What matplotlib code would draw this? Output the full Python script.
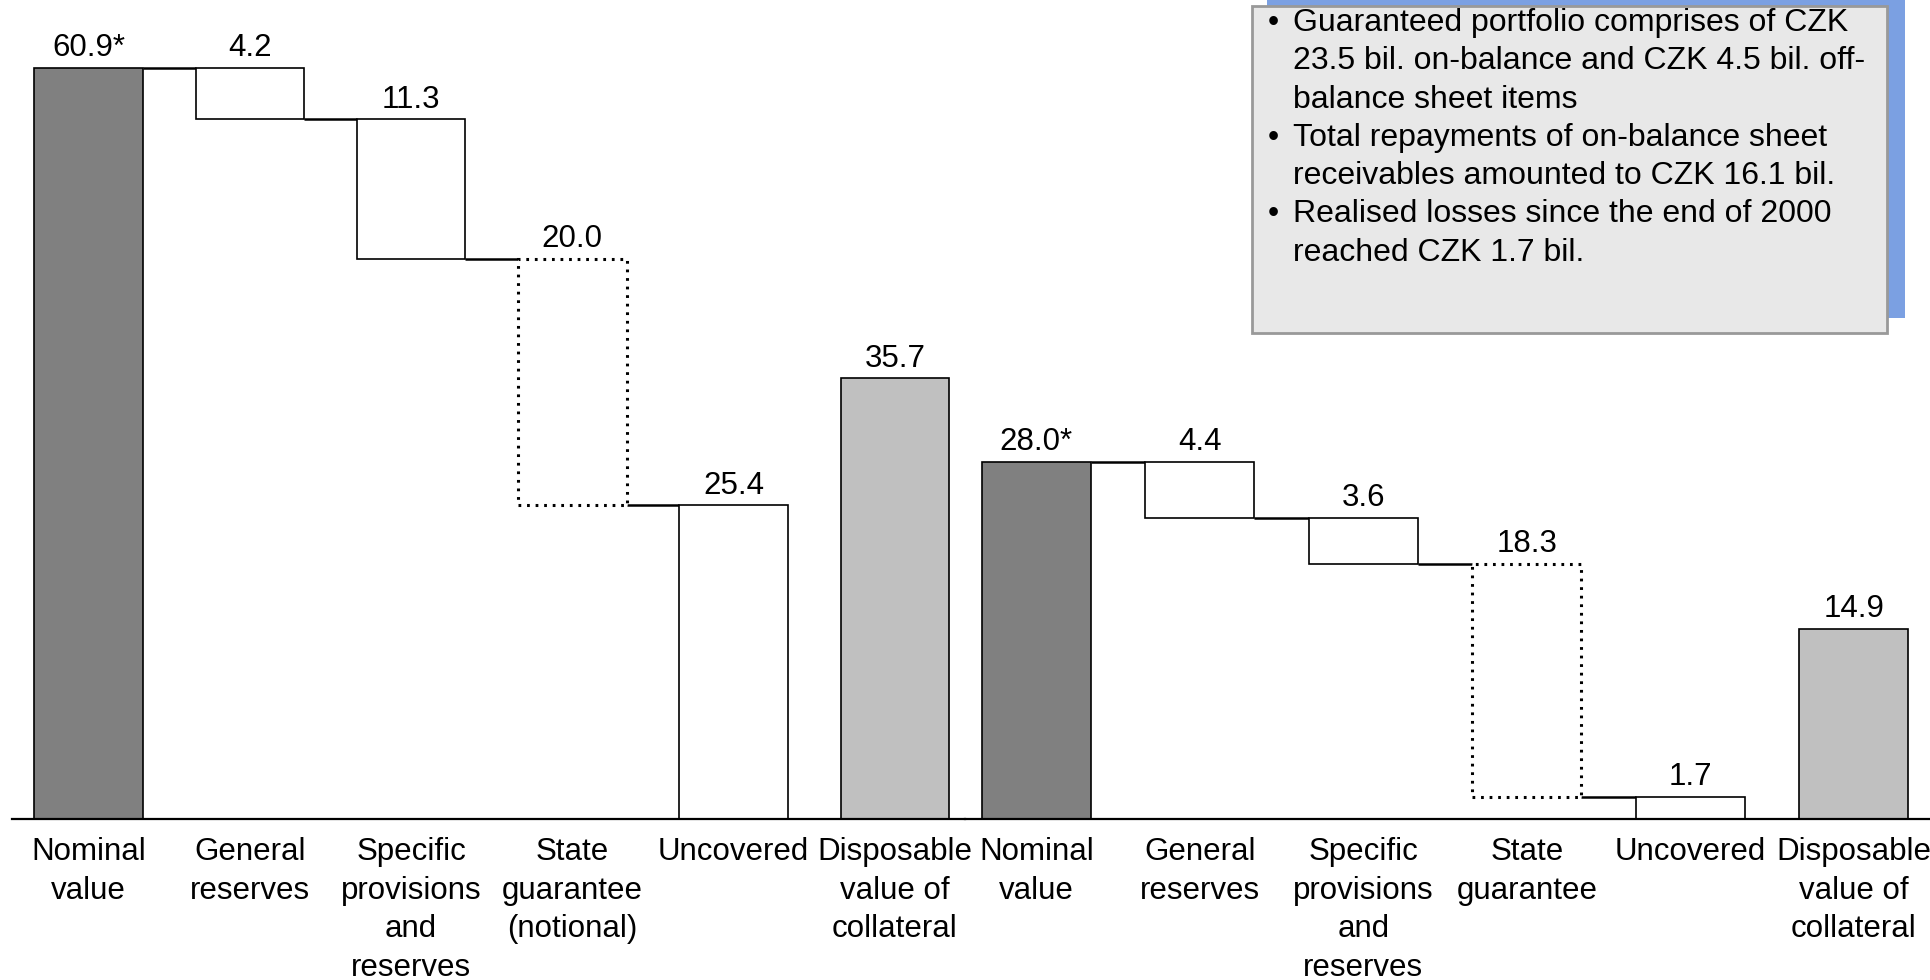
import matplotlib
matplotlib.use("Agg")
import matplotlib.pyplot as plt
from matplotlib.patches import Rectangle
import numpy as np

plt.rcParams['font.family'] = ['Liberation Sans', 'DejaVu Sans']

# ---------------- data ----------------
categories1 = ["Nominal\nvalue", "General\nreserves", "Specific\nprovisions\nand\nreserves",
               "State\nguarantee\n(notional)", "Uncovered", "Disposable\nvalue of\ncollateral"]
values1 = [60.9, 4.2, 11.3, 20.0, 25.4, 35.7]
labels1 = ["60.9*", "4.2", "11.3", "20.0", "25.4", "35.7"]

categories2 = ["Nominal\nvalue", "General\nreserves", "Specific\nprovisions\nand\nreserves",
               "State\nguarantee", "Uncovered", "Disposable\nvalue of\ncollateral"]
values2 = [28.0, 4.4, 3.6, 18.3, 1.7, 14.9]
labels2 = ["28.0*", "4.4", "3.6", "18.3", "1.7", "14.9"]

# bar kinds: total, step, step, step(dotted), remaining, collateral
kinds = ["total", "step", "step", "dotted", "total_white", "collateral"]

note_lines = ["Guaranteed portfolio comprises of CZK",
              "23.5 bil. on-balance and CZK 4.5 bil. off-",
              "balance sheet items",
              "Total repayments of on-balance sheet",
              "receivables amounted to CZK 16.1 bil.",
              "Realised losses since the end of 2000",
              "reached CZK 1.7 bil."]
note_bullets = [True, False, False, True, False, True, False]

FS = 22.5
FS_NOTE = 23.0
W, H = 1930, 980
fig = plt.figure(figsize=(W / 100, H / 100), dpi=100)

base_px = 818.6
bottom = (H - base_px) / H
height = base_px / H

def draw_group(ax, values, labels, cats, width, ylim, xlim, xmin_line=0.0):
    ax.set_xlim(*xlim)
    ax.set_ylim(0, ylim)
    x = np.arange(len(values))
    level = values[0]
    bottoms, heights = [], []
    for v, k in zip(values, kinds):
        if k in ("step", "dotted"):
            level = level - v
            bottoms.append(level)
        else:
            bottoms.append(0)
        heights.append(v)
    colors = {"total": "#808080", "step": "white", "dotted": "white",
              "total_white": "white", "collateral": "#C0C0C0"}
    for i, k in enumerate(kinds):
        if k == "dotted":
            ax.bar(x[i], heights[i], bottom=bottoms[i], width=width, facecolor="white",
                   edgecolor="black", linewidth=2.2, linestyle=(0, (0.9, 1.9)), zorder=2)
        else:
            ax.bar(x[i], heights[i], bottom=bottoms[i], width=width, facecolor=colors[k],
                   edgecolor="black", linewidth=1.2, zorder=2)
        ax.annotate(labels[i], (x[i], bottoms[i] + heights[i]), xytext=(0, 3.5),
                    textcoords="offset points", ha="center", va="bottom", fontsize=FS)
    # connectors: from right edge of bar i to left edge of bar i+1 at the running level
    for i in range(4):
        lvl = bottoms[i + 1] + heights[i + 1]
        ax.plot([x[i] + width / 2, x[i + 1] - width / 2], [lvl, lvl], color="black",
                linewidth=1.8, zorder=1, solid_capstyle="butt")
    ax.axhline(0, xmin=xmin_line, xmax=1, color="black", linewidth=1.6, clip_on=False, zorder=3)
    ax.set_xticks(x)
    ax.set_xticklabels(cats, fontsize=FS, linespacing=1.37)
    ax.tick_params(axis="x", length=0, pad=13.5)
    ax.set_yticks([])
    for s in ax.spines.values():
        s.set_visible(False)
    ax.patch.set_alpha(0)

ax1 = fig.add_axes([0, bottom, 0.5, height])
draw_group(ax1, values1, labels1, categories1, 0.672, base_px / 12.33, (-0.5495, 5.435),
           xmin_line=12 / 965)
ax2 = fig.add_axes([0.5, bottom, 0.5, height])
draw_group(ax2, values2, labels2, categories2, 0.666, base_px / 12.75, (-0.4368, 5.467))

# ---------------- note box ----------------
def fx(px):
    return px / W

def fy(py):
    return 1 - py / H

shadow = Rectangle((fx(1267), fy(318)), fx(1905) - fx(1267), fy(-10) - fy(318),
                   transform=fig.transFigure, facecolor="#7BA0E2", edgecolor="none", zorder=5)
box = Rectangle((fx(1252), fy(333)), fx(1887) - fx(1252), fy(6) - fy(333),
                transform=fig.transFigure, facecolor="#E8E8E8", edgecolor="#999999",
                linewidth=2, zorder=6)
fig.add_artist(shadow)
fig.add_artist(box)
for i, (line, b) in enumerate(zip(note_lines, note_bullets)):
    yb = 31 + 38.3 * i
    if b:
        fig.text(fx(1268), fy(yb), "•", fontsize=FS_NOTE, va="baseline", ha="left", zorder=7)
    fig.text(fx(1293), fy(yb), line, fontsize=FS_NOTE, va="baseline", ha="left", zorder=7)

fig.savefig("out.png", dpi=100)
